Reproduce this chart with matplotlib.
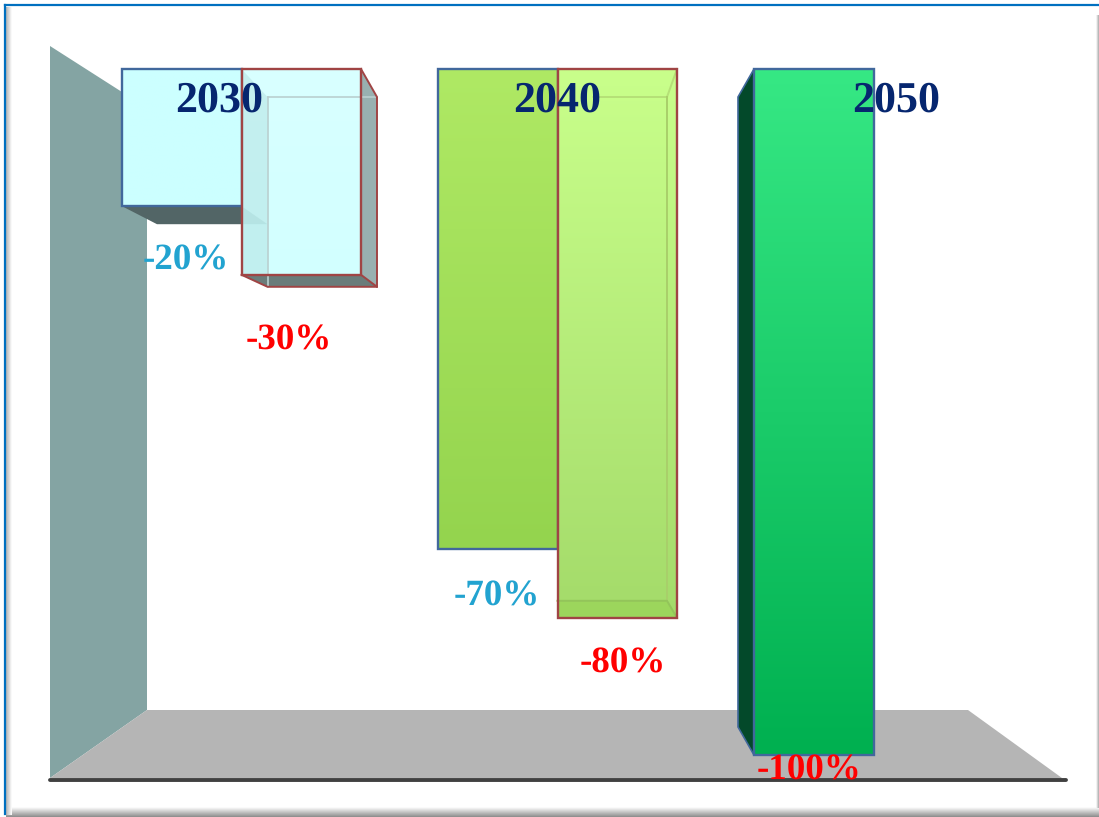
import matplotlib
matplotlib.use("Agg")
import matplotlib.pyplot as plt
import numpy as np
from matplotlib.colors import to_rgb
from matplotlib.patches import Polygon

plt.rcParams["text.hinting"] = "none"
plt.rcParams["text.hinting_factor"] = 1

years = ["2030", "2040", "2050"]
blue_values = [-20, -70, -100]
red_values = [-30, -80]

# gradient colours per bar, top to bottom
blue_grad = [("#ccffff", "#ccffff"), ("#afe964", "#94d44e"), ("#36e884", "#00b050")]
red_grad = [("#d4ffff", "#ccffff"), ("#c9ff8b", "#a4db6a")]

width = 1099
height = 817
y_zero = 69
px_per_pct = 6.86
group_px = 316
x_first = 122
bar_px = 119.5
bar_w = bar_px / group_px

fig = plt.figure(figsize=(width / 100, height / 100), dpi=100, facecolor="white")

# background scene, in pixels
bg = fig.add_axes([0, 0, 1, 1])
bg.set_xlim(0, width)
bg.set_ylim(height, 0)
bg.axis("off")

bg.add_patch(Polygon([(50, 46), (147, 108), (147, 710), (50, 778)], fc="#84a4a3", ec="none"))
bg.add_patch(Polygon([(147, 710), (968, 710), (1062, 778), (50, 778)], fc="#b5b5b5", ec="none"))
bg.plot([50, 1066], [780, 780], color="#404040", lw=2.8, solid_capstyle="round")

# frame shading
fade = np.linspace(0.7, 1, 32).reshape(-1, 1)
bg.imshow(np.linspace(1, 0.55, 32).reshape(-1, 1), extent=(6, 1099, 817, 807), cmap="gray",
          vmin=0, vmax=1, aspect="auto")
bg.imshow(fade.T, extent=(6, 12, 815, 7), cmap="gray", vmin=0, vmax=1, aspect="auto")
bg.imshow(fade[::-1].T, extent=(1096, 1099, 808, 15), cmap="gray", vmin=0.1, vmax=1, aspect="auto")
bg.plot([5, 1099], [5, 5], color="#0070c0", lw=1.6)
bg.plot([5, 5], [5, 814], color="#0070c0", lw=1.6)
bg.set_xlim(0, width)
bg.set_ylim(height, 0)

# value axes on top of the scene
ax = fig.add_axes([0, 0, 1, 1], facecolor="none")
ax.axis("off")
x_lim = (-x_first / group_px, (width - x_first) / group_px)
y_lim = ((y_zero - height) / px_per_pct, y_zero / px_per_pct)


def shift(x, v, dx=0, dy=0):
    # dx, dy are pixel offsets (dy downwards)
    return (x + dx / group_px, v - dy / px_per_pct)


def face(pts, color, z, alpha=1.0, ec="none"):
    ax.add_patch(Polygon(pts, fc=color, ec=ec, alpha=alpha, zorder=z, lw=1.2))


def gradient(bar, colors, z, alpha=1.0):
    x0, y0 = bar.get_xy()
    w, h = bar.get_width(), bar.get_height()
    top, bottom = np.array(to_rgb(colors[0])), np.array(to_rgb(colors[1]))
    t = np.linspace(0, 1, 128)[:, None]
    rgb = top + (bottom - top) * t
    img = np.dstack([rgb[:, None, :], np.full((128, 1), alpha)[:, :, None]])
    ax.imshow(img, extent=(x0, x0 + w, y0 + h, y0), aspect="auto", zorder=z,
              interpolation="bilinear")


blue_x = np.arange(len(blue_values))
red_x = np.arange(len(red_values)) + bar_w

blue_bars = ax.bar(blue_x, blue_values, width=bar_w, align="edge", fc="none",
                   ec="#41689c", lw=1.7, zorder=4)
red_bars = ax.bar(red_x, red_values, width=bar_w, align="edge", fc="none",
                  ec="#a04444", lw=1.7, zorder=9)

for bar, colors in zip(blue_bars, blue_grad):
    gradient(bar, colors, 3)

# first group: open glass box look
x, v = blue_x[0], blue_values[0]
face([shift(x, v), shift(x + bar_w, v), shift(x + bar_w, v, 26, 18), shift(x, v, 35, 18)], "#526566", 2)

x, v = red_x[0], red_values[0]
gradient(red_bars[0], red_grad[0], 5, alpha=0.88)
face([shift(x, 0), shift(x, 0, 26, 28), shift(x, v, 26, 12), shift(x, v)], "#a8d8d8", 6, alpha=0.4)
face([shift(x + bar_w, 0), shift(x + bar_w, 0, 16, 28), shift(x + bar_w, v, 16, 12), shift(x + bar_w, v)], "#98b0b0", 6)
face([shift(x, v), shift(x + bar_w, v), shift(x + bar_w, v, 16, 12), shift(x, v, 26, 12)], "#6a7c7a", 6)
ax.plot(*zip(shift(x, 0, 26, 28), shift(x + bar_w, 0, 16, 28)), color="#b9cfcf", lw=1.2, zorder=7)
ax.plot(*zip(shift(x, 0, 26, 28), shift(x, v, 26, 12)), color="#b9cfcf", lw=1.2, zorder=7)
ax.plot(*zip(shift(x + bar_w, v), shift(x + bar_w, v, 16, 12), shift(x, v, 26, 12), shift(x, v)),
        color="#a04444", lw=1.4, zorder=8)
ax.plot(*zip(shift(x + bar_w, 0), shift(x + bar_w, 0, 16, 28), shift(x + bar_w, v, 16, 12)),
        color="#a04444", lw=1.4, zorder=8)

# second group: box seen from inside, depth goes left
x, v = red_x[1], red_values[1]
gradient(red_bars[1], red_grad[1], 5)
face([shift(x, v), shift(x + bar_w, v), shift(x + bar_w, v, -10, -17), shift(x, v, 0, -17)], "#9cd65c", 6)
inner = "#a9cf6a"
ax.plot(*zip(shift(x + bar_w, 0), shift(x + bar_w, 0, -10, 28), shift(x, 0, 36, 28)), color="#b5e077", lw=1.4, zorder=7)
ax.plot(*zip(shift(x + bar_w, 0, -10, 28), shift(x + bar_w, v, -10, -17)), color=inner, lw=1.4, zorder=7)
ax.plot(*zip(shift(x, v, 0, -17), shift(x + bar_w, v, -10, -17), shift(x + bar_w, v)), color="#93c55a", lw=1.4, zorder=7)

# third group: dark side face
x, v = blue_x[2], blue_values[2]
face([shift(x, 0), shift(x, 0, -16, 28), shift(x, v, -16, -28), shift(x, v)], "#03492a", 2, ec="#41689c")

ax.set_xlim(x_lim)
ax.set_ylim(y_lim)

# text, placed with pixel offsets from the bars
font = dict(family=["Liberation Serif", "DejaVu Serif"], fontweight="bold", ha="center", va="baseline", zorder=12)
year_x = [97, 119, 142]
for i, (year, dx) in enumerate(zip(years, year_x)):
    tx, ty = shift(i, 0, dx, 43)
    ax.text(tx, ty, year, color="#06266f", fontsize=31.5, **font)

blue_dx = [64, 59, 55]
blue_dy = [63, 56, 25]
blue_col = ["#22a3d0", "#22a3d0", "#ff0000"]
for i, v in enumerate(blue_values):
    tx, ty = shift(i, v, blue_dx[i], blue_dy[i])
    ax.text(tx, ty, f"{v}%", color=blue_col[i], fontsize=26.5, **font)

red_dx = [47, 65]
red_dy = [75, 55]
for i, v in enumerate(red_values):
    tx, ty = shift(red_x[i], v, red_dx[i], red_dy[i])
    ax.text(tx, ty, f"{v}%", color="#ff0000", fontsize=26.5, **font)

fig.savefig("out.png", dpi=100, facecolor="white")
